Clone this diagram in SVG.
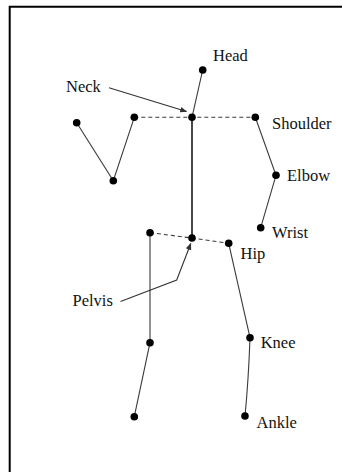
<svg xmlns="http://www.w3.org/2000/svg" width="342" height="472" viewBox="0 0 342 472">
  <style>
    .bone { stroke: #3a3a3a; stroke-width: 1.1; fill: none; }
    .spine { stroke: #1a1a1a; stroke-width: 1.6; fill: none; }
    .dash { stroke: #3a3a3a; stroke-width: 1.1; stroke-dasharray: 4 3; fill: none; }
    .lead { stroke: #333; stroke-width: 1.1; fill: none; marker-end: url(#arrow); }
    .joint { fill: #000; }
    .label { font-family: "Liberation Serif", "Times New Roman", serif; font-size: 16.5px; fill: #111; }
  </style>
  <defs>
    <marker id="arrow" viewBox="0 0 10 10" refX="9" refY="5" markerWidth="7" markerHeight="7" orient="auto" markerUnits="userSpaceOnUse">
      <path d="M0,1 L10,5 L0,9 Z" fill="#333"/>
    </marker>
  </defs>

  <rect width="342" height="472" fill="#fff"/>

  <!-- frame: top and left edges -->
  <path d="M9.7,472 V6.7 H342" stroke="#000" stroke-width="2" fill="none"/>

  <g id="connectors">
    <!-- shoulder line -->
    <line class="dash" x1="134.3" y1="117.3" x2="255.3" y2="117.3"/>
    <!-- hip line -->
    <polyline class="dash" points="150,232.7 192,238 228.7,243.3"/>
    <!-- spine -->
    <line class="spine" x1="192" y1="117.3" x2="192" y2="238"/>
    <!-- head -->
    <line class="bone" x1="192" y1="117.3" x2="202.7" y2="70"/>
    <!-- left arm -->
    <polyline class="bone" points="134.3,117.3 113.3,180.7 76.7,122.7"/>
    <!-- right arm -->
    <polyline class="bone" points="255.3,117.3 276,175.3 260.7,227.7"/>
    <!-- left leg -->
    <polyline class="bone" points="150,232.7 150,342.7 134.3,416.7"/>
    <!-- right leg -->
    <line class="bone" x1="228.7" y1="243.3" x2="250" y2="337.7"/>
    <path class="bone" d="M250,337.7 Q248.5,380 245,416"/>
    <!-- label leaders -->
    <line class="lead" x1="109" y1="87.7" x2="186.5" y2="111.5"/>
    <polyline class="lead" points="120.5,301.5 176.7,280 190.8,243.5"/>
  </g>

  <g id="head"><circle class="joint" cx="202.7" cy="70" r="3.8"/><text class="label" x="213" y="61">Head</text></g>
  <g id="neck"><circle class="joint" cx="192" cy="117.3" r="3.8"/><text class="label" x="66" y="92">Neck</text></g>
  <g id="shoulder-left"><circle class="joint" cx="134.3" cy="117.3" r="3.8"/></g>
  <g id="shoulder-right"><circle class="joint" cx="255.3" cy="117.3" r="3.8"/><text class="label" x="272" y="129">Shoulder</text></g>
  <g id="elbow-left"><circle class="joint" cx="113.3" cy="180.7" r="3.8"/></g>
  <g id="wrist-left"><circle class="joint" cx="76.7" cy="122.7" r="3.8"/></g>
  <g id="elbow-right"><circle class="joint" cx="276" cy="175.3" r="3.8"/><text class="label" x="287" y="180.7">Elbow</text></g>
  <g id="wrist-right"><circle class="joint" cx="260.7" cy="227.7" r="3.8"/><text class="label" x="272" y="238">Wrist</text></g>
  <g id="pelvis"><circle class="joint" cx="192" cy="238" r="3.8"/><text class="label" x="72.5" y="305.5">Pelvis</text></g>
  <g id="hip-left"><circle class="joint" cx="150" cy="232.7" r="3.8"/></g>
  <g id="hip-right"><circle class="joint" cx="228.7" cy="243.3" r="3.8"/><text class="label" x="240.5" y="259">Hip</text></g>
  <g id="knee-left"><circle class="joint" cx="150" cy="342.7" r="3.8"/></g>
  <g id="ankle-left"><circle class="joint" cx="134.3" cy="416.7" r="3.8"/></g>
  <g id="knee-right"><circle class="joint" cx="250" cy="337.7" r="3.8"/><text class="label" x="260.7" y="348">Knee</text></g>
  <g id="ankle-right"><circle class="joint" cx="245" cy="416" r="3.8"/><text class="label" x="256.5" y="427.7">Ankle</text></g>
</svg>
